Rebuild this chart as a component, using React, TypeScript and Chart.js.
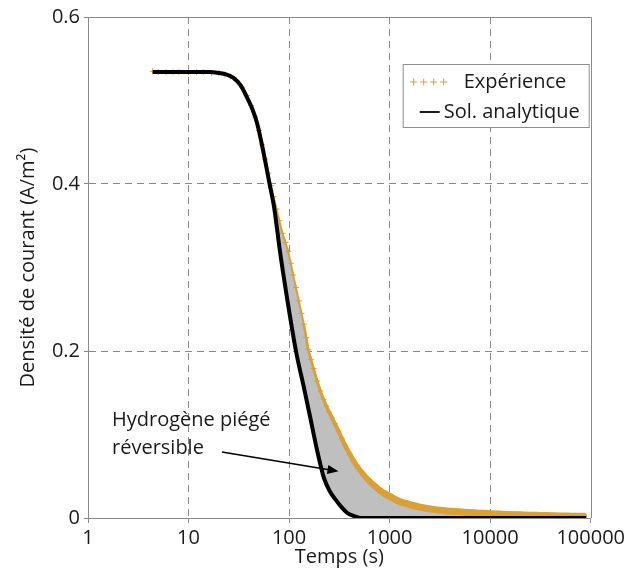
import React, { useEffect, useRef } from "react";
import { Chart, registerables } from "chart.js";

Chart.register(...registerables);

// ---- data ----
const expTime = [4.4, 5, 6, 7, 8, 10, 12, 14, 17, 20, 23, 26, 30, 34, 38, 42, 46, 50, 54, 58, 62, 66, 70, 75, 80, 86, 92, 98, 104, 110, 117, 125, 133, 140, 148, 155, 165, 175, 190, 205, 220, 235, 250, 268, 285, 310, 335, 360, 400, 436, 480, 550, 620, 700, 800, 900, 1000, 1150, 1300, 1500, 1700, 2000, 2500, 3000, 3700, 4500, 5500, 7000, 8500, 10000, 12500, 15000, 20000, 25000, 32000, 40000, 50000, 60000, 72000, 85000];
const expCurrent = [0.535, 0.534, 0.534, 0.534, 0.534, 0.534, 0.534, 0.534, 0.533, 0.533, 0.531, 0.529, 0.524, 0.516, 0.506, 0.494, 0.48, 0.464, 0.447, 0.43, 0.413, 0.398, 0.385, 0.37, 0.356, 0.341, 0.33, 0.319, 0.305, 0.291, 0.276, 0.26, 0.245, 0.232, 0.216, 0.202, 0.19, 0.179, 0.164, 0.152, 0.142, 0.134, 0.127, 0.12, 0.113, 0.104, 0.095, 0.087, 0.077, 0.069, 0.061, 0.052, 0.045, 0.039, 0.033, 0.029, 0.026, 0.022, 0.019, 0.017, 0.015, 0.013, 0.011, 0.0095, 0.0085, 0.0078, 0.007, 0.0062, 0.0056, 0.0052, 0.0047, 0.0043, 0.0038, 0.0034, 0.0031, 0.0028, 0.0025, 0.0023, 0.0021, 0.002];

const solTime = [4.4, 8, 12, 16, 20, 24, 28, 33, 38, 43, 48, 55, 64, 71, 81, 95, 117, 140, 162, 190, 222, 254, 290, 322, 380, 450, 520, 1000, 10000, 90000];
const solCurrent = [0.534, 0.534, 0.534, 0.534, 0.533, 0.531, 0.527, 0.518, 0.504, 0.49, 0.473, 0.441, 0.4, 0.372, 0.32, 0.265, 0.2, 0.157, 0.121, 0.081, 0.048, 0.032, 0.022, 0.015, 0.006, 0.002, 0, 0, 0, 0];

const xTickValues = [1, 10, 100, 1000, 10000, 100000];
const yTickValues = [0, 0.2, 0.4, 0.6];

const seriesLabels = ["Expérience", "Sol. analytique"];
const annotationLines = ["Hydrogène piégé", "réversible"];
const xTitle = "Temps (s)";
const yTitle = "Densité de courant (A/m²)";

const ORANGE = "#D8A035";
const GRID = "#8a8a8a";
const FONT = '"Open Sans", sans-serif';

const overlayPlugin = {
  id: "overlay",
  afterDatasetsDraw(chart: any) {
    const { ctx, chartArea: ca } = chart;
    ctx.save();
    // top and right frame
    ctx.strokeStyle = GRID;
    ctx.lineWidth = 1;
    ctx.beginPath();
    ctx.moveTo(ca.left, Math.round(ca.top) + 0.5);
    ctx.lineTo(Math.round(ca.right) + 0.5, Math.round(ca.top) + 0.5);
    ctx.lineTo(Math.round(ca.right) + 0.5, ca.bottom);
    ctx.stroke();

    // legend box
    const bx = ca.right - 188;
    const by = ca.top + 47;
    const bw = 186;
    const bh = 63;
    ctx.fillStyle = "#ffffff";
    ctx.fillRect(bx, by, bw, bh);
    ctx.strokeStyle = "#8c8c8c";
    ctx.strokeRect(bx + 0.5, by + 0.5, bw, bh);

    ctx.font = `20px ${FONT}`;
    ctx.fillStyle = "#1a1a1a";
    ctx.textBaseline = "middle";
    ctx.textAlign = "left";
    // Expérience row
    const r1 = by + 18;
    ctx.strokeStyle = ORANGE;
    ctx.lineWidth = 1;
    for (let i = 0; i < 4; i++) {
      const cx = bx + 11 + i * 10;
      ctx.beginPath();
      ctx.moveTo(cx - 3.5, r1);
      ctx.lineTo(cx + 3.5, r1);
      ctx.moveTo(cx, r1 - 3.5);
      ctx.lineTo(cx, r1 + 3.5);
      ctx.stroke();
    }
    ctx.fillText(seriesLabels[0], bx + 61, r1);
    // Sol. analytique row
    const r2 = by + 48;
    ctx.strokeStyle = "#000";
    ctx.lineWidth = 1.8;
    ctx.beginPath();
    ctx.moveTo(bx + 17, r2);
    ctx.lineTo(bx + 37, r2);
    ctx.stroke();
    ctx.fillText(seriesLabels[1], bx + 41, r2);

    // annotation
    const xs = chart.scales.x;
    const ys = chart.scales.y;
    const tx = ca.left + 24;
    ctx.fillText(annotationLines[0], tx, ys.getPixelForValue(0.117));
    ctx.fillText(annotationLines[1], tx, ys.getPixelForValue(0.084));
    // arrow
    const x0 = xs.getPixelForValue(21.5);
    const y0 = ys.getPixelForValue(0.079);
    const x1 = xs.getPixelForValue(310);
    const y1 = ys.getPixelForValue(0.056);
    const ang = Math.atan2(y1 - y0, x1 - x0);
    ctx.strokeStyle = "#000";
    ctx.fillStyle = "#000";
    ctx.lineWidth = 1.5;
    ctx.beginPath();
    ctx.moveTo(x0, y0);
    ctx.lineTo(x1 - 8 * Math.cos(ang), y1 - 8 * Math.sin(ang));
    ctx.stroke();
    ctx.beginPath();
    ctx.moveTo(x1, y1);
    ctx.lineTo(x1 - 11 * Math.cos(ang) + 4.5 * Math.sin(ang), y1 - 11 * Math.sin(ang) - 4.5 * Math.cos(ang));
    ctx.lineTo(x1 - 11 * Math.cos(ang) - 4.5 * Math.sin(ang), y1 - 11 * Math.sin(ang) + 4.5 * Math.cos(ang));
    ctx.closePath();
    ctx.fill();
    ctx.restore();
  },
};

export default function App() {
  const ref = useRef<HTMLCanvasElement | null>(null);

  useEffect(() => {
    if (!ref.current) return;
    const expData = expTime.map((t, i) => ({ x: t, y: expCurrent[i] }));
    const solData = solTime.map((t, i) => ({ x: t, y: solCurrent[i] }));
    const bandData = expData.filter((p) => p.x >= 140);
    const chart = new Chart(ref.current, {
      type: "line",
      data: {
        datasets: [
          {
            label: seriesLabels[0],
            data: expData,
            borderColor: ORANGE,
            backgroundColor: "#BFBFBF",
            pointStyle: "cross",
            pointRadius: 3,
            pointBorderWidth: 1,
            pointBorderColor: ORANGE,
            borderWidth: 2,
            cubicInterpolationMode: "monotone",
            fill: { target: 1, above: "#BFBFBF", below: "#BFBFBF" },
            order: 2,
          },
          {
            label: seriesLabels[1],
            data: solData,
            borderColor: "#000000",
            backgroundColor: "#000000",
            borderWidth: 4,
            pointRadius: 0,
            cubicInterpolationMode: "monotone",
            fill: false,
            order: 1,
          },
          {
            label: seriesLabels[0] + " (band)",
            data: bandData,
            borderColor: ORANGE,
            borderWidth: 3,
            borderCapStyle: "round",
            borderJoinStyle: "round",
            pointRadius: 0,
            cubicInterpolationMode: "monotone",
            fill: false,
            order: 1.5,
            segment: {
              borderWidth: (c: any) => {
                const lx = Math.log10(c.p0.parsed.x);
                return Math.min(7, Math.max(2.5, 2.5 + (lx - 2.2) * 6));
              },
            },
          },
        ],
      },
      options: {
        responsive: false,
        animation: false,
        layout: { padding: { top: 17, right: 36, left: 0, bottom: 0 } },
        plugins: {
          legend: { display: false },
          tooltip: { enabled: false },
        },
        scales: {
          x: {
            type: "logarithmic",
            min: 1,
            max: 100000,
            afterBuildTicks: (s: any) => {
              s.ticks = xTickValues.map((v) => ({ value: v }));
            },
            afterFit: (s: any) => {
              s.height = 58;
            },
            ticks: {
              autoSkip: false,
              maxRotation: 0,
              padding: 3,
              color: "#1a1a1a",
              font: { family: FONT, size: 20 },
              callback: (v: any) => String(v),
            },
            grid: {
              color: (c: any) => (c.index === 0 || c.index === xTickValues.length - 1 ? "rgba(0,0,0,0)" : GRID),
              tickColor: GRID,
              tickLength: 5,
              drawTicks: true,
            },
            border: { display: true, color: GRID, width: 1, dash: [7, 5] },
            title: {
              display: true,
              text: xTitle,
              color: "#1a1a1a",
              font: { family: FONT, size: 20 },
              padding: { top: 0, bottom: 7 },
            },
          },
          y: {
            type: "linear",
            min: 0,
            max: 0.6,
            afterBuildTicks: (s: any) => {
              s.ticks = yTickValues.map((v) => ({ value: v }));
            },
            afterFit: (s: any) => {
              s.width = 88;
            },
            ticks: {
              padding: 4,
              color: "#1a1a1a",
              font: { family: FONT, size: 20 },
              callback: (v: any) => (v === 0 ? "0" : Number(v).toFixed(1)),
            },
            grid: {
              color: (c: any) => (c.index === 0 || c.index === yTickValues.length - 1 ? "rgba(0,0,0,0)" : GRID),
              tickColor: GRID,
              tickLength: 4,
              drawTicks: true,
            },
            border: { display: true, color: GRID, width: 1, dash: [7, 5] },
            title: {
              display: true,
              text: yTitle,
              color: "#1a1a1a",
              font: { family: FONT, size: 20 },
              padding: { top: 16, bottom: 0 },
            },
          },
        },
      },
      plugins: [overlayPlugin],
    });
    return () => chart.destroy();
  }, []);

  return (
    <div style={{ position: "fixed", left: 0, top: 0, width: 628, height: 576, background: "#fff" }}>
      <canvas ref={ref} width={628} height={576} style={{ display: "block" }} />
    </div>
  );
}
